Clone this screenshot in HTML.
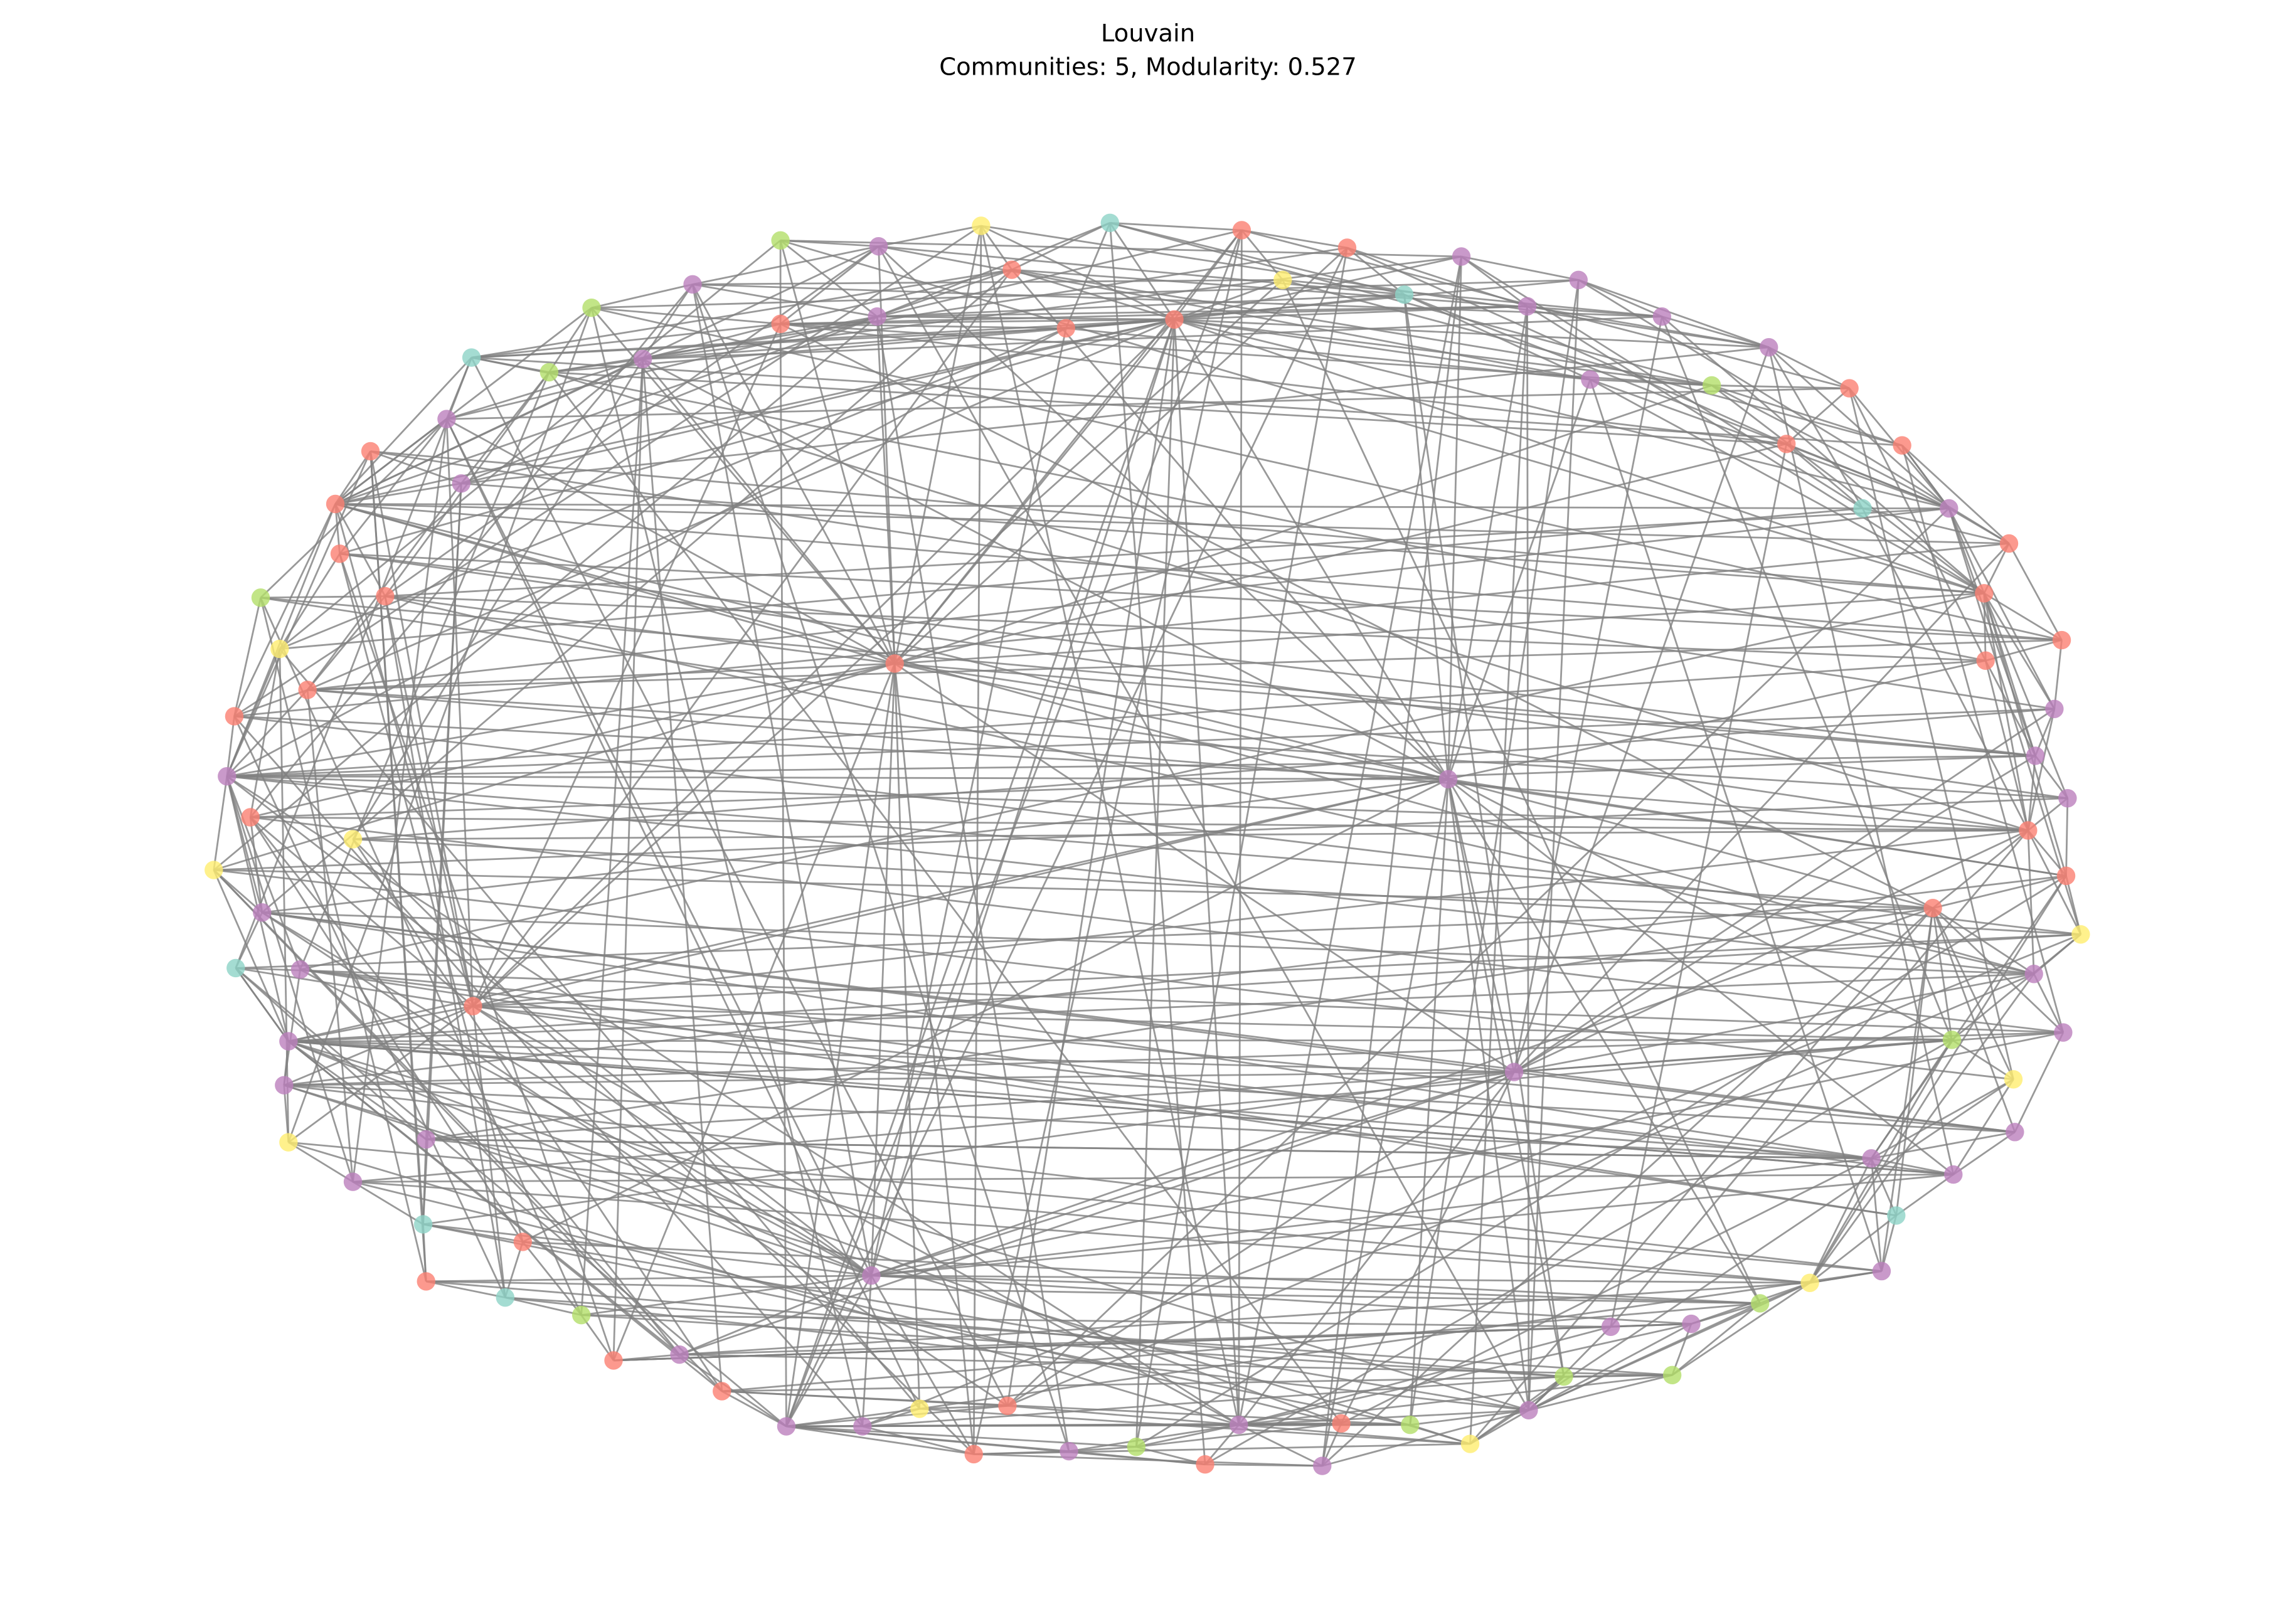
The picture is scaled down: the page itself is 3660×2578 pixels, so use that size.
<!DOCTYPE html>
<html><head><meta charset="utf-8">
<style>
html,body{margin:0;padding:0;background:#fff;}
svg{display:block;}
</style></head>
<body>
<svg id="chart" width="3660" height="2578" viewBox="0 0 1568 1104" xmlns="http://www.w3.org/2000/svg">
<rect width="1568" height="1104" fill="#fff"/>
<text x="784" y="28" text-anchor="middle" font-family="DejaVu Sans, Liberation Sans, sans-serif" font-size="16.5" fill="#000">Louvain</text>
<text x="784" y="51" text-anchor="middle" font-family="DejaVu Sans, Liberation Sans, sans-serif" font-size="16.5" fill="#000">Communities: 5, Modularity: 0.527</text>
<g id="edges"></g>
<g id="nodes"></g>
</svg>
<script>
const nodeX=[758,848,670,600,533,920,998,1078,876,691,959,473,404,1043,1135,599,533,728,802,322,439,375,1208,1086,1169,1263,305,253,1220,1299,315,229,1272,1331,232,1372,263,178,1355,1408,191,611,1356,210,160,1403,989,1390,155,1412,171,241,1385,146,1411,179,1320,1421,161,205,1389,323,1333,1409,197,1034,194,1375,197,291,1376,241,1278,1334,289,1295,357,595,1285,291,1236,345,1202,397,1100,1155,464,419,1068,1142,493,688,628,1044,537,589,846,916,963,1004,776,665,730,823,903];
const nodeY=[152,157,154,168,164,169,175,191,191,184,201,194,210,209,216,216,221,224,218,244,245,254,237,259,263,265,286,308,303,304,330,344,347,347,378,371,407,408,405,437,443,453,451,471,489,484,532,516,530,545,558,573,567,594,598,623,620,638,661,662,665,687,710,705,711,732,741,737,780,778,773,807,791,802,836,830,848,871,868,875,876,886,890,898,906,904,925,929,940,939,950,960,962,963,974,974,973,972,973,986,988,993,991,1000,1001];
const community=["t","r","y","p","g","r","p","p","y","r","t","p","g","p","p","p","r","r","r","t","p","g","p","p","g","r","p","r","r","r","p","r","t","p","r","r","r","g","r","r","y","r","r","r","r","p","p","p","p","p","r","y","r","y","r","p","r","y","t","p","p","r","g","p","p","p","p","y","y","p","p","p","p","p","t","t","r","p","p","r","y","t","g","g","p","p","p","r","g","g","r","r","y","p","p","p","p","r","g","y","g","r","p","r","p"];
const edgeStr="18-0 18-1 18-2 18-9 18-17 18-15 18-16 18-20 18-21 18-19 18-31 18-34 18-43 18-8 18-10 18-13 18-23 18-24 18-22 18-33 18-38 18-41 18-46 18-61 18-77 18-91 18-94 18-96 18-30 18-6 18-100 41-2 41-3 41-4 41-12 41-15 41-26 41-31 41-43 41-48 41-50 41-53 41-46 41-52 41-38 41-47 41-65 41-77 41-92 41-94 41-101 41-36 41-20 41-11 41-1 41-5 41-28 41-87 41-24 46-10 46-13 46-6 46-23 46-44 46-48 46-55 46-61 46-65 46-73 46-82 46-88 46-93 46-98 46-3 46-31 46-54 46-42 46-56 46-104 46-64 46-76 65-47 65-52 65-60 65-62 65-63 65-70 65-66 65-64 65-55 65-45 65-14 65-22 65-91 65-96 65-97 65-77 65-69 65-35 65-86 77-64 77-66 77-61 77-48 77-55 77-59 77-74 77-79 77-83 77-94 77-95 77-86 77-101 77-17 77-11 77-26 77-82 77-80 77-85 77-56 77-73 77-72 77-63 61-31 61-26 61-27 61-36 61-50 61-64 61-66 61-58 61-68 61-81 61-96 61-9 61-8 61-16 61-57 61-62 48-31 48-27 48-40 48-43 48-53 48-55 48-59 48-64 48-71 48-96 48-56 48-52 48-60 48-47 64-66 64-69 64-58 64-53 64-70 64-73 64-60 64-62 64-72 64-86 64-90 64-97 64-93 31-26 31-27 31-34 31-36 31-30 31-19 31-20 31-44 31-39 31-35 31-32 31-12 31-9 31-3 20-21 20-11 20-15 20-26 20-87 20-83 20-90 20-62 16-9 16-17 16-3 16-4 16-20 16-19 16-24 16-12 16-56 33-32 33-29 33-28 33-25 33-22 33-35 33-38 33-47 33-45 33-24 33-36 33-57 33-91 38-35 38-39 38-42 38-45 38-47 38-52 38-54 38-49 38-24 38-14 38-13 38-23 38-59 38-30 52-47 52-49 52-54 52-56 52-57 52-60 52-45 52-42 52-32 52-21 52-43 52-51 52-84 52-50 56-60 56-62 56-63 56-67 56-70 56-75 56-78 56-54 56-53 56-58 56-99 72-70 72-73 72-75 72-78 72-80 72-62 72-67 72-54 72-66 72-55 72-69 94-95 94-92 94-90 94-86 94-101 94-91 94-102 94-96 94-100 94-103 94-97 94-16 94-1 94-5 96-97 96-98 96-99 96-103 96-104 96-100 96-102 96-91 96-93 96-84 96-85 96-89 96-1 96-6 93-84 93-85 93-88 93-89 93-82 93-80 93-98 93-99 93-104 93-7 93-13 80-82 80-85 80-89 80-78 80-75 80-62 80-54 80-60 2-96 3-93 0-103 5-100 6-104 7-98 8-82 10-88 13-99 14-62 22-73 23-78 25-67 28-84 29-63 12-95 11-102 19-91 21-97 26-92 27-79 30-74 34-87 37-83 40-68 44-81 50-76 51-90 53-86 58-69 43-71 34-49 36-60 37-47 44-57 50-63 55-70 59-75 66-78 68-80 69-72 71-73 74-65 79-82 81-93 83-88 86-89 87-84 90-98 92-99 101-104 102-103 0-1 0-9 0-17 0-10 1-8 1-5 1-101 2-9 2-3 2-101 3-4 3-11 4-15 5-10 5-13 6-7 6-13 7-14 7-22 8-14 9-19 9-46 10-23 11-12 12-21 13-22 14-22 15-11 15-102 17-19 17-40 19-21 19-26 21-36 21-30 22-25 22-32 23-24 23-33 24-29 24-25 25-28 25-42 26-34 26-37 27-30 28-32 29-35 29-33 30-43 32-35 34-40 35-39 36-37 36-43 37-44 39-42 39-45 40-50 42-47 43-44 43-39 44-48 45-47 47-49 49-54 50-55 53-55 54-57 55-58 57-60 57-62 58-64 59-66 60-63 62-67 63-70 66-68 67-73 68-71 69-74 70-73 71-74 73-75 74-79 74-76 75-78 76-81 76-83 78-80 79-81 81-83 82-85 83-87 84-85 85-89 86-87 88-93 88-89 89-82 90-91 91-92 92-95 95-101 97-98 98-99 97-104 99-88 100-103 100-102 102-101 103-104 61-72 61-52 48-45 48-42 66-54 66-63 64-57 53-49 55-60 59-73 69-56 71-62 27-38 34-39 36-42 40-32 43-33 44-35 50-47 51-45 19-29 21-28 26-25 30-22 11-14 12-7 4-6 3-10 15-13 17-23 9-24 20-14 16-28 104-56 97-72 99-67 103-62 100-54 91-60 95-57 92-78 90-82 86-80 87-85 83-84 81-89 79-88 76-93 74-98 71-97 68-96 66-99 58-94 55-91 53-90 51-101 50-86 44-95 40-92 37-79 34-76 36-81 27-74 26-71 30-69 12-68 19-58 21-59 11-50 20-51 9-55 15-53 17-48 2-44 4-40 3-36 0-30 1-26 5-21 6-20 8-11 10-15 13-16 7-17 14-9 22-2 23-3 24-0 25-1 28-5 29-8 32-6 33-10 35-7 38-4 39-12 42-19 45-27 47-34 49-43 54-37 57-51 60-31 63-58 67-53 70-59 73-64 75-61 78-69 80-71 82-76 85-87 89-90 84-86 88-95 98-94 99-101 97-100";
const colors={r:"#fb8072",p:"#bc80bd",g:"#b3de69",y:"#ffed6f",t:"#8dd3c7"};
const NS="http://www.w3.org/2000/svg";
const eg=document.getElementById("edges");
edgeStr.split(" ").forEach(function(s){
  const ab=s.split("-").map(Number);
  const l=document.createElementNS(NS,"line");
  l.setAttribute("x1",nodeX[ab[0]]);l.setAttribute("y1",nodeY[ab[0]]);
  l.setAttribute("x2",nodeX[ab[1]]);l.setAttribute("y2",nodeY[ab[1]]);
  l.setAttribute("stroke","#808080");l.setAttribute("stroke-opacity","0.8");
  l.setAttribute("stroke-width","1.2");
  
  
  eg.appendChild(l);
});
const ng=document.getElementById("nodes");
for(let i=0;i<nodeX.length;i++){
  const c=document.createElementNS(NS,"circle");
  c.setAttribute("cx",nodeX[i]);c.setAttribute("cy",nodeY[i]);c.setAttribute("r","6.3");
  c.setAttribute("fill",colors[community[i]]);c.setAttribute("fill-opacity","0.8");
  
  
  ng.appendChild(c);
}
</script>
</body></html>
